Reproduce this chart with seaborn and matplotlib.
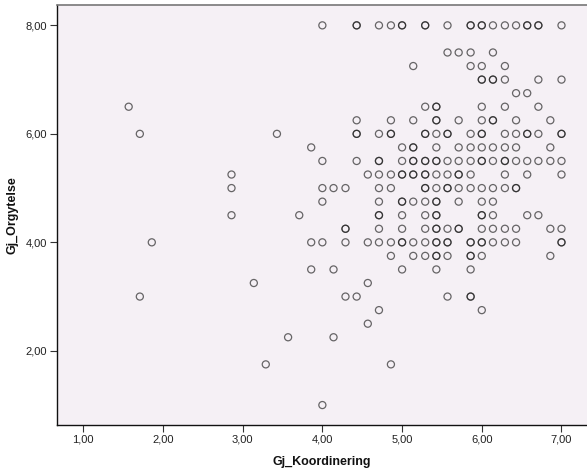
import matplotlib
matplotlib.use("Agg")
import matplotlib.pyplot as plt
from matplotlib.ticker import FuncFormatter, FixedLocator
import seaborn as sns
import pandas as pd

# Gj_Koordinering values (x) per Gj_Orgytelse level (y)
row_8_00 = [4.00, 4.43, 4.71, 4.86, 5.00, 5.29, 5.57, 5.86, 6.00, 6.14, 6.29, 6.43, 6.57, 6.71, 7.00]
row_7_50 = [5.57, 5.71, 5.86, 6.14]
row_7_25 = [5.14, 5.86, 6.00, 6.29]
row_7_00 = [6.00, 6.14, 6.29, 6.71, 7.00]
row_6_75 = [6.43, 6.57]
row_6_50 = [1.57, 5.29, 5.43, 6.00, 6.29, 6.71]
row_6_25 = [4.43, 4.86, 5.14, 5.43, 5.71, 6.00, 6.14, 6.43, 6.86]
row_6_00 = [1.71, 3.43, 4.43, 4.71, 4.86, 5.29, 5.43, 5.57, 5.86, 6.00, 6.29, 6.43, 6.57, 6.71, 7.00]
row_5_75 = [3.86, 5.00, 5.14, 5.43, 5.71, 5.86, 6.00, 6.14, 6.29, 6.43, 6.86]
row_5_50 = [4.00, 4.43, 4.71, 5.00, 5.14, 5.29, 5.43, 5.57, 5.71, 5.86, 6.00, 6.14, 6.29, 6.43, 6.57, 6.71, 6.86, 7.00]
row_5_25 = [2.86, 4.57, 4.71, 4.86, 5.00, 5.14, 5.29, 5.43, 5.57, 5.71, 5.86, 6.29, 6.57, 7.00]
row_5_00 = [2.86, 4.00, 4.14, 4.29, 4.71, 4.86, 5.29, 5.43, 5.57, 5.71, 5.86, 6.00, 6.14, 6.29, 6.43]
row_4_75 = [4.00, 4.71, 5.00, 5.14, 5.29, 5.43, 5.71, 6.00, 6.14]
row_4_50 = [2.86, 3.71, 4.71, 5.00, 5.29, 5.43, 6.00, 6.14, 6.57, 6.71]
row_4_25 = [4.29, 4.71, 5.00, 5.29, 5.43, 5.57, 5.71, 6.00, 6.14, 6.29, 6.43, 6.86, 7.00]
row_4_00 = [1.86, 3.86, 4.00, 4.29, 4.57, 4.71, 4.86, 5.00, 5.14, 5.29, 5.43, 5.57, 5.86, 6.00, 6.14, 6.29, 6.43, 7.00]
row_3_75 = [4.86, 5.14, 5.29, 5.43, 5.57, 5.86, 6.00, 6.86]
row_3_50 = [3.86, 4.14, 5.00, 5.43, 5.86]
row_3_25 = [3.14, 4.57]
row_3_00 = [1.71, 4.29, 4.43, 5.57, 5.86]
row_2_75 = [4.71, 6.00]
row_2_50 = [4.57]
row_2_25 = [3.57, 4.14]
row_1_75 = [3.29, 4.86]
row_1_00 = [4.00]

# cases that coincide (drawn darker in the reference)
repeat_x = [4.43, 5.00, 5.29, 5.86, 6.00, 6.57, 6.71, 6.00, 6.14, 5.43, 5.43, 6.14,
            4.43, 4.86, 5.29, 5.57, 6.00, 6.57, 7.00, 5.14, 4.71, 5.14, 5.29, 5.43,
            6.00, 6.29, 5.00, 5.14, 5.29, 5.71, 5.29, 5.57, 6.43, 5.00, 5.43, 4.71,
            5.43, 6.00, 4.29, 5.43, 5.71, 5.00, 5.43, 5.57, 5.86, 6.00, 7.00, 5.43,
            5.86, 5.86]
repeat_y = [8.00, 8.00, 8.00, 8.00, 8.00, 8.00, 8.00, 7.00, 7.00, 6.50, 6.25, 6.25,
            6.00, 6.00, 6.00, 6.00, 6.00, 6.00, 6.00, 5.75, 5.50, 5.50, 5.50, 5.50,
            5.50, 5.50, 5.25, 5.25, 5.25, 5.25, 5.00, 5.00, 5.00, 4.75, 4.75, 4.50,
            4.50, 4.50, 4.25, 4.25, 4.25, 4.00, 4.00, 4.00, 4.00, 4.00, 4.00, 3.75,
            3.75, 3.00]

y_levels = [8.00, 7.50, 7.25, 7.00, 6.75, 6.50, 6.25, 6.00, 5.75, 5.50, 5.25, 5.00,
            4.75, 4.50, 4.25, 4.00, 3.75, 3.50, 3.25, 3.00, 2.75, 2.50, 2.25, 1.75, 1.00]
rows = [row_8_00, row_7_50, row_7_25, row_7_00, row_6_75, row_6_50, row_6_25, row_6_00,
        row_5_75, row_5_50, row_5_25, row_5_00, row_4_75, row_4_50, row_4_25, row_4_00,
        row_3_75, row_3_50, row_3_25, row_3_00, row_2_75, row_2_50, row_2_25, row_1_75,
        row_1_00]

x_ticks = [1, 2, 3, 4, 5, 6, 7]
y_ticks = [2, 4, 6, 8]

xs, ys = [], []
for yv, r in zip(y_levels, rows):
    xs += r
    ys += [yv] * len(r)
xs += repeat_x
ys += repeat_y
df = pd.DataFrame({"Gj_Koordinering": xs, "Gj_Orgytelse": ys})

sns.set_theme(style="white")
plt.rcParams["font.family"] = ["Liberation Sans", "DejaVu Sans"]

fig = plt.figure(figsize=(5.87, 4.75), dpi=100)
ax = fig.add_axes([0.097, 0.105, 0.903, 0.885])
ax.set_facecolor("#F5F0F5")

sns.scatterplot(data=df, x="Gj_Koordinering", y="Gj_Orgytelse", ax=ax,
                marker="o", s=26, facecolor="none", edgecolor="#1a1a1a",
                linewidth=0.9, alpha=0.65, legend=False)

ax.set_xlim(0.67, 7.32)
ax.set_ylim(0.63, 8.38)
ax.xaxis.set_major_locator(FixedLocator(x_ticks))
ax.yaxis.set_major_locator(FixedLocator(y_ticks))
fmt = FuncFormatter(lambda v, p: f"{v:.2f}".replace(".", ","))
ax.xaxis.set_major_formatter(fmt)
ax.yaxis.set_major_formatter(fmt)
ax.tick_params(axis="both", which="major", direction="out", length=5, width=0.8,
               color="#333333", labelsize=8, labelcolor="#222222", pad=2,
               bottom=True, left=True)

for side in ["left", "bottom"]:
    ax.spines[side].set_color("#111111")
    ax.spines[side].set_linewidth(1.0)
ax.spines["top"].set_color("#777777")
ax.spines["top"].set_linewidth(1.2)
ax.spines["right"].set_visible(False)

ax.set_xlabel("Gj_Koordinering", fontsize=9, fontweight="bold", color="#111111", labelpad=8)
ax.set_ylabel("Gj_Orgytelse", fontsize=9, fontweight="bold", color="#111111", labelpad=5)

fig.savefig("out.png", dpi=100)
